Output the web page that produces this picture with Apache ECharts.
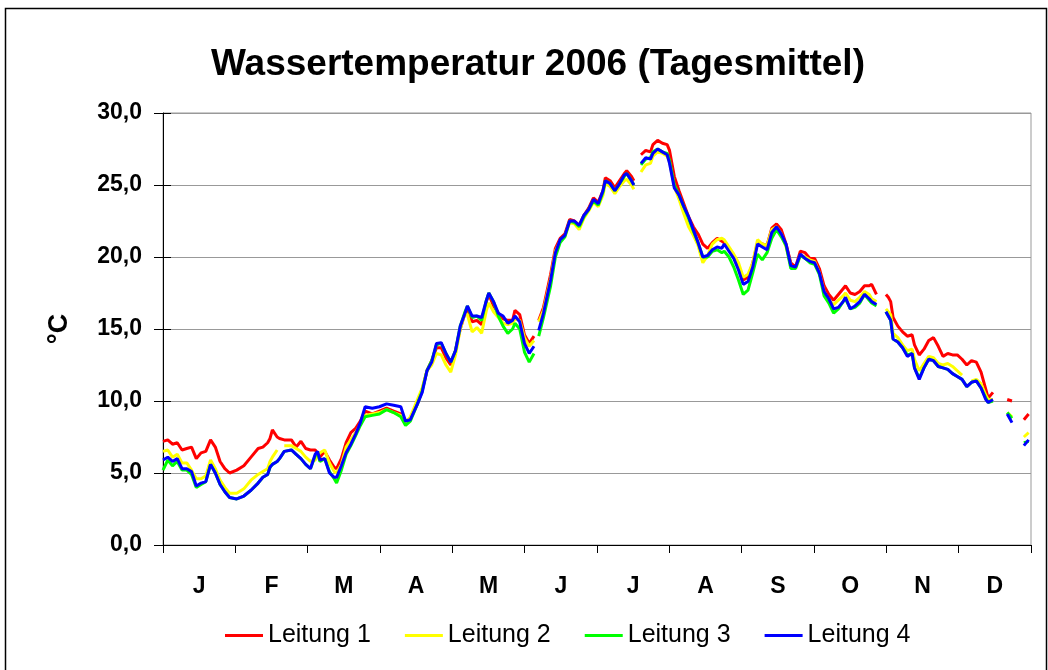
<!DOCTYPE html>
<html>
<head>
<meta charset="utf-8">
<script src="https://cdn.jsdelivr.net/npm/echarts@6/dist/echarts.min.js"></script>
<style>
  html, body { margin: 0; padding: 0; background: #fff; }
  #main { width: 1048px; height: 670px; }
</style>
</head>
<body>
<div id="main"></div>
<script>
// Tag im Jahr 2006 (0 = 1. Januar), gemeinsame Stuetzstellen fuer alle Leitungen
const days = [
  0, 2, 4, 6, 8, 10, 12, 14, 16, 18, 20, 22, 24, 26, 28, 31, 34, 37, 40, 42,
  44, 45, 46, 48, 49, 51, 54, 56, 58, 60, 62, 64, 65, 66, 68, 70, 72, 73, 75, 77,
  79, 81, 83, 85, 88, 91, 94, 97, 100, 102, 104, 107, 109, 111, 113, 115, 117, 119, 121, 123,
  125, 127, 128, 130, 132, 134, 136, 137, 139, 141, 143, 145, 147, 148, 150, 152, 154, 156, 157, 158,
  160, 163, 165, 167, 169, 171, 173, 175, 177, 179, 181, 183, 185, 186, 188, 190, 192, 194, 195, 197,
  198, 199, 201, 203, 205, 206, 208, 210, 212, 213, 215, 217, 219, 221, 223, 225, 227, 229, 231, 233,
  235, 236, 238, 240, 242, 244, 246, 248, 250, 252, 254, 256, 258, 260, 262, 264, 266, 268, 270, 272,
  274, 276, 278, 280, 282, 284, 286, 287, 289, 291, 293, 295, 297, 298, 300, 301, 304, 305, 306, 307,
  309, 311, 313, 315, 316, 318, 320, 322, 324, 326, 328, 330, 332, 334, 336, 338, 340, 342, 344, 346,
  347, 349, 351, 355, 357, 359, 362, 364
];

const leitung1 = [
  7.2, 7.3, 7.0, 7.1, 6.6, 6.7, 6.8, 6.0, 6.4, 6.5, 7.3, 6.8, 5.8, 5.3, 5.0, 5.2, 5.5, 6.1, 6.7, 6.8,
  7.1, 7.4, 8.0, 7.5, 7.4, 7.3, 7.3, 6.8, 7.2, 6.7, 6.6, 6.6, 6.4, 6.1, 6.5, 5.9, 5.4, 5.3, 6.0, 7.1,
  7.8, 8.1, 8.6, 9.3, 9.1, 9.3, 9.5, 9.3, 9.1, 8.6, 8.8, 9.8, 10.8, 12.1, 12.8, 13.7, 13.7, 13.0, 12.5, 13.5,
  15.0, 16.1, 16.4, 15.5, 15.6, 15.3, 16.9, 17.4, 16.6, 16.1, 15.7, 15.6, 15.6, 16.3, 16.0, 14.6, 14.0, 14.5, null, 15.6,
  16.5, 18.8, 20.6, 21.3, 21.6, 22.6, 22.5, 22.2, 22.9, 23.4, 24.1, 23.8, 24.6, 25.5, 25.3, 24.8, 25.3, 25.8, 26.0, 25.6,
  25.3, null, 27.1, 27.4, 27.3, 27.8, 28.1, 27.9, 27.8, 27.4, 25.6, 24.6, 23.7, 22.8, 22.1, 21.6, 20.9, 20.6, 21.0, 21.3,
  21.1, 21.0, 20.6, 20.1, 19.3, 18.4, 18.6, 19.6, 21.0, 20.9, 20.8, 22.0, 22.3, 21.9, 20.9, 19.6, 19.3, 20.4, 20.3, 19.9,
  19.9, 19.2, 18.0, 17.4, 17.0, 17.4, 17.8, 18.0, 17.5, 17.4, 17.6, 18.0, 18.0, 18.1, 17.4, null, 17.4, 17.2, 16.9, 15.8,
  15.2, 14.8, 14.5, 14.6, 13.9, 13.2, 13.6, 14.2, 14.4, 13.8, 13.1, 13.3, 13.2, 13.2, 12.9, 12.5, 12.8, 12.7, 12.0, 10.8,
  10.2, 10.6, null, 10.1, 10.0, null, 8.7, 9.1
];

const leitung2 = [
  6.5, 6.6, 6.1, 6.3, 5.7, 5.7, 5.2, 4.6, 4.6, 4.8, 5.9, 5.3, 4.5, 4.0, 3.6, 3.6, 3.9, 4.5, 4.9, 5.1,
  5.3, 5.8, 6.1, 6.6, null, 6.9, 6.9, 6.7, 6.5, 6.1, 5.8, 5.9, 6.2, 6.4, 6.6, 5.7, 5.1, 5.0, 5.6, 6.8,
  7.3, 7.8, 8.4, 9.0, 9.1, 9.2, 9.4, 9.2, 9.0, 8.5, 8.9, 10.1, 10.9, 12.1, 12.5, 13.3, 13.2, 12.5, 12.0, 13.2,
  15.0, 16.1, 16.0, 14.8, 15.1, 14.7, 16.3, 16.8, 16.2, 15.8, 15.4, 15.3, 15.4, 15.7, 15.6, 14.4, 13.8, 14.2, null, 15.5,
  16.3, 18.5, 20.4, 21.1, 21.4, 22.4, 22.3, 21.9, 22.7, 23.2, 23.8, 23.5, 24.3, 25.1, 24.9, 24.4, 24.9, 25.3, 25.4, 25.0,
  24.7, null, 25.9, 26.4, 26.5, 27.0, 27.3, 27.2, 27.0, 26.6, 24.9, 24.0, 23.0, 22.1, 21.5, 20.8, 19.6, 20.1, 20.9, 21.2,
  21.3, 21.2, 20.7, 20.2, 19.6, 18.6, 18.8, 19.6, 21.2, 20.9, 20.8, 21.9, 22.1, 21.6, 20.7, 19.4, 19.2, 20.1, 20.0, 19.8,
  19.7, 18.9, 17.6, 17.0, 16.7, 17.0, 17.3, 17.5, 17.0, 16.9, 17.2, 17.6, 17.4, 17.1, 16.9, null, 16.4, 16.2, 16.0, 14.7,
  14.4, 13.9, 13.5, 13.6, 12.9, 12.1, 12.6, 13.1, 13.0, 12.6, 12.5, 12.6, 12.4, 12.1, 11.8, null, 11.4, 11.5, 11.2, 10.4,
  10.1, 10.1, null, 9.2, 8.9, null, 7.5, 7.8
];

const leitung3 = [
  5.2, 5.9, 5.5, 5.8, 5.2, 5.2, 4.9, 4.0, 4.2, 4.4, 5.6, 5.0, 4.2, 3.7, 3.3, 3.2, 3.4, 3.8, 4.3, 4.7,
  4.9, 5.4, 5.6, 5.8, 6.0, 6.5, 6.6, 6.3, 6.0, 5.6, 5.3, 6.2, 6.4, 5.8, 6.0, 5.1, 4.6, 4.3, 5.2, 6.3,
  6.9, 7.6, 8.3, 8.9, 9.0, 9.1, 9.4, 9.2, 8.9, 8.3, 8.6, 9.8, 10.7, 12.1, 12.8, 13.9, 14.0, 13.3, 12.7, 13.5,
  15.2, 16.2, 16.6, 15.8, 15.9, 15.6, 17.0, 17.5, 16.9, 15.9, 15.2, 14.7, 15.0, 15.4, 15.0, 13.4, 12.7, 13.3, null, 14.5,
  15.8, 18.0, 20.0, 21.0, 21.4, 22.5, 22.4, 22.1, 22.8, 23.3, 23.9, 23.6, 24.5, 25.3, 25.1, 24.6, 25.1, 25.6, 25.8, 25.3,
  25.0, null, 26.4, 26.8, 26.9, 27.3, 27.5, 27.3, 27.2, 26.7, 25.0, 24.3, 23.5, 22.7, 21.8, 21.0, 20.0, 20.0, 20.4, 20.5,
  20.3, 20.4, 20.0, 19.3, 18.4, 17.4, 17.7, 18.9, 20.2, 19.8, 20.3, 21.3, 21.9, 21.4, 20.8, 19.2, 19.2, 20.1, 19.9, 19.6,
  19.5, 18.8, 17.3, 16.8, 16.1, 16.4, 16.9, 17.1, 16.4, 16.5, 16.8, 17.4, 17.0, 16.8, 16.6, null, 16.2, 15.9, 15.6, 14.3,
  14.1, 13.7, 13.2, 13.3, 12.3, 11.6, 12.3, 12.9, 12.8, 12.4, 12.3, 12.2, 11.9, 11.7, 11.5, 11.0, 11.3, 11.4, 10.9, 10.2,
  9.9, 10.0, null, 9.2, 8.8, null, 7.1, 7.2
];

const leitung4 = [
  5.9, 6.1, 5.8, 6.0, 5.3, 5.3, 5.1, 4.1, 4.3, 4.4, 5.6, 5.0, 4.2, 3.7, 3.3, 3.2, 3.4, 3.8, 4.3, 4.7,
  4.9, 5.4, 5.6, 5.8, 6.0, 6.5, 6.6, 6.3, 6.0, 5.6, 5.3, 6.3, 6.5, 5.9, 6.0, 5.0, 4.7, 4.7, 5.5, 6.4,
  7.0, 7.7, 8.5, 9.6, 9.5, 9.6, 9.8, 9.7, 9.6, 8.6, 8.7, 9.8, 10.6, 12.1, 12.7, 14.0, 14.05, 13.3, 12.7, 13.5,
  15.2, 16.1, 16.6, 15.9, 15.9, 15.8, 17.0, 17.5, 16.9, 16.1, 15.9, 15.4, 15.6, 15.9, 15.5, 14.0, 13.3, 13.8, null, 14.9,
  16.1, 18.4, 20.3, 21.2, 21.5, 22.5, 22.5, 22.2, 22.9, 23.3, 24.0, 23.7, 24.6, 25.3, 25.1, 24.6, 25.1, 25.7, 25.8, 25.3,
  25.0, null, 26.5, 26.9, 26.8, 27.2, 27.5, 27.3, 27.1, 26.5, 24.8, 24.3, 23.5, 22.8, 21.9, 21.0, 20.0, 20.1, 20.5, 20.7,
  20.6, 20.9, 20.4, 19.9, 19.1, 18.1, 18.3, 19.3, 20.9, 20.7, 20.5, 21.7, 22.1, 21.6, 20.9, 19.4, 19.3, 20.2, 19.9, 19.7,
  19.6, 18.9, 17.6, 17.1, 16.4, 16.5, 16.9, 17.2, 16.4, 16.6, 16.9, 17.4, 17.1, 16.9, 16.7, null, 16.2, 15.9, 15.6, 14.3,
  14.1, 13.7, 13.1, 13.3, 12.3, 11.5, 12.3, 12.9, 12.8, 12.4, 12.3, 12.2, 11.9, 11.7, 11.5, 11.0, 11.3, 11.4, 10.9, 10.1,
  9.9, 10.1, null, 9.1, 8.5, null, 6.9, 7.3
];

const months = ['J', 'F', 'M', 'A', 'M', 'J', 'J', 'A', 'S', 'O', 'N', 'D'];
const yTicks = [0, 5, 10, 15, 20, 25, 30];
const seriesNames = ['Leitung 1', 'Leitung 2', 'Leitung 3', 'Leitung 4'];
const seriesColors = ['#ff0000', '#ffff00', '#00ff00', '#0000ff'];

const font = '"Liberation Sans", Arial, sans-serif';

function pairs(vals) {
  return days.map((d, i) => [d, vals[i] === null ? '-' : vals[i]]);
}

const allValues = [leitung1, leitung2, leitung3, leitung4];
const series = allValues.map((vals, i) => ({
  name: seriesNames[i],
  type: 'line',
  xAxisIndex: 1,
  yAxisIndex: 0,
  data: pairs(vals),
  showSymbol: false,
  symbol: 'none',
  connectNulls: false,
  animation: false,
  lineStyle: { color: seriesColors[i], width: 3 },
  itemStyle: { color: seriesColors[i] }
}));

const chart = echarts.init(document.getElementById('main'), null, { renderer: 'canvas' });

const option = {
  backgroundColor: '#fff',
  animation: false,
  title: {
    text: 'Wassertemperatur 2006 (Tagesmittel)',
    left: 533,
    top: 41,
    textAlign: 'center',
    textStyle: { fontFamily: font, fontWeight: 'bold', fontSize: 37, color: '#000' }
  },
  legend: {
    data: seriesNames,
    left: 220,
    top: 618,
    icon: 'rect',
    itemWidth: 38,
    itemHeight: 3,
    itemGap: 34,
    textStyle: { fontFamily: font, fontSize: 25, color: '#000' }
  },
  grid: {
    left: 163, right: 17, top: 113, bottom: 125,
    show: true, borderColor: '#999', borderWidth: 1
  },
  xAxis: [
    {
      type: 'category',
      data: months,
      boundaryGap: true,
      position: 'bottom',
      axisLine: { show: true, lineStyle: { color: '#000', width: 1 } },
      axisTick: { show: true, length: 8, lineStyle: { color: '#000' } },
      axisLabel: { margin: 30, fontFamily: font, fontWeight: 'bold', fontSize: 23, color: '#000' },
      splitLine: { show: false }
    },
    {
      type: 'value',
      min: 0,
      max: 365,
      show: false
    }
  ],
  yAxis: [
    {
      type: 'value',
      min: yTicks[0],
      max: yTicks[yTicks.length - 1],
      interval: yTicks[1] - yTicks[0],
      name: '°C',
      nameLocation: 'middle',
      nameRotate: 90,
      nameGap: 90,
      nameTextStyle: { fontFamily: font, fontWeight: 'bold', fontSize: 27, color: '#000' },
      axisLine: { show: true, lineStyle: { color: '#000', width: 1 } },
      axisTick: { show: true, length: 9, lineStyle: { color: '#000' } },
      axisLabel: {
        margin: 21,
        fontFamily: font, fontWeight: 'bold', fontSize: 23, color: '#000',
        formatter: v => v.toFixed(1).replace('.', ',')
      },
      splitLine: { show: true, lineStyle: { color: '#999', width: 1 } }
    },
    {
      // innen liegende Teilstriche (Kreuz-Markierung wie im Original)
      type: 'value',
      position: 'left',
      min: yTicks[0],
      max: yTicks[yTicks.length - 1],
      interval: yTicks[1] - yTicks[0],
      axisLine: { show: false },
      axisTick: { show: true, inside: true, length: 8, lineStyle: { color: '#000' } },
      axisLabel: { show: false },
      splitLine: { show: false }
    }
  ],
  graphic: [
    {
      type: 'rect',
      left: 3, top: 6,
      shape: { width: 1041, height: 700 },
      style: { fill: 'none', stroke: '#000', lineWidth: 1.5 },
      silent: true,
      z: -1
    }
  ],
  series: series
};

chart.setOption(option);
window.addEventListener('resize', () => {
  chart.resize()
});
</script>
</body>
</html>
